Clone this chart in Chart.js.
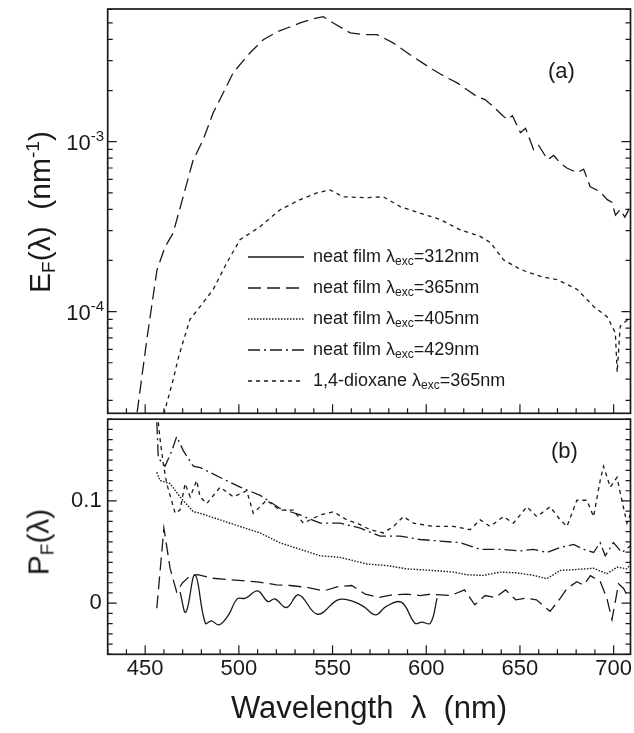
<!DOCTYPE html>
<html>
<head>
<meta charset="utf-8">
<script src="https://cdn.jsdelivr.net/npm/chart.js@4.4.1/dist/chart.umd.min.js"></script>
<style>
  body { margin: 0; background: #fff; }
  #wrap { position: relative; width: 634px; height: 733px; overflow: hidden;
          font-family: "Liberation Sans", Arial, sans-serif; color: #1a1a1a; }
  #wrap canvas { position: absolute; left: 0; }
  .txt { position: absolute; white-space: nowrap; line-height: 1; }
  .rot { transform: translate(-50%, -50%) rotate(-90deg); font-size: 30px; }
  .leg { position: absolute; left: 248px; font-size: 18px; line-height: 1; white-space: nowrap; }
  .leg svg { vertical-align: middle; margin-right: 9px; }
  sub { font-size: 12px; vertical-align: -3px; }
  .ysup { font-size: 15px; position: relative; top: -9px; }
</style>
</head>
<body>
<div id="wrap">
  <canvas id="topChart" width="634" height="420" style="top:0"></canvas>
  <canvas id="botChart" width="634" height="333" style="top:400px"></canvas>
  <div id="labels"></div>
</div>
<script>
const INK = '#1a1a1a';

// shared wavelength axis (nm)
const nmMin = 430, nmMax = 709;
const nmTickLabels = [450, 500, 550, 600, 650, 700];

// panel (a): E_F, log scale
const efMin = 2.52e-5, efMax = 6.04e-3;
const filmNmA = [445.7, 451, 456.3, 460.6, 464.9, 469.7, 475.6, 481, 486.3, 491.7,
  497, 506, 513, 520.4, 532.7, 540, 545, 550.4, 559.4, 566.3,
  573.7, 582.3, 591.4, 597.8, 603.7, 610.1, 616.5, 621.8, 627.2, 631.4,
  635.8, 640, 643.2, 646, 650.3, 653, 657.3, 660, 664.8, 668,
  671.5, 675, 680.6, 684, 687.5, 691, 694, 696.6, 699, 701,
  703.5, 706, 708.9];
const filmEA = [2.55e-5, 7.0e-5, 1.76e-4, 2.4e-4, 2.9e-4, 4.5e-4, 7.8e-4, 1.03e-3, 1.48e-3, 1.94e-3,
  2.55e-3, 3.34e-3, 3.98e-3, 4.43e-3, 5.0e-3, 5.3e-3, 5.45e-3, 5.0e-3, 4.37e-3, 4.27e-3,
  4.27e-3, 3.82e-3, 3.25e-3, 2.92e-3, 2.65e-3, 2.41e-3, 2.22e-3, 2.02e-3, 1.84e-3, 1.77e-3,
  1.61e-3, 1.45e-3, 1.35e-3, 1.42e-3, 1.13e-3, 1.2e-3, 8.97e-4, 9.5e-4, 7.83e-4, 8.3e-4,
  7.5e-4, 7.0e-4, 6.57e-4, 6.9e-4, 5.43e-4, 5.2e-4, 4.9e-4, 4.56e-4, 4.4e-4, 3.7e-4,
  3.98e-4, 3.6e-4, 4.15e-4];
const dioxNmA = [460, 465, 467.8, 470.5, 473.9, 479.3, 486.3, 493.7, 500.6, 511.3,
  522, 532.7, 541.7, 548.7, 555.6, 568.4, 577, 586.1, 596.7, 607.5,
  618.1, 628.8, 634.2, 641.2, 650.3, 661, 670.1, 680.6, 689.4, 696.6,
  700.9, 701.9, 703.5, 707.7];
const dioxEA = [2.5e-5, 4.0e-5, 5.4e-5, 6.8e-5, 9.0e-5, 1.07e-4, 1.35e-4, 1.95e-4, 2.65e-4, 3.16e-4,
  3.98e-4, 4.56e-4, 5.0e-4, 5.2e-4, 4.74e-4, 4.68e-4, 4.74e-4, 4.15e-4, 3.8e-4, 3.48e-4,
  3.03e-4, 2.77e-4, 2.55e-4, 2.02e-4, 1.77e-4, 1.61e-4, 1.54e-4, 1.35e-4, 1.07e-4, 9.3e-5,
  7.5e-5, 4.4e-5, 8.2e-5, 9.0e-5];

// panel (b): P_F, linear scale
const pfMin = -0.05, pfMax = 0.18;
const pfTickLabels = [0, 0.1];
const p312Nm = [468.6, 471.7, 476.6, 482.1, 485.4, 489.4, 494.5, 499.1, 503.6, 510,
  515.5, 519.2, 525.5, 531.9, 542, 552.9, 560.2, 566.6, 573, 578.5,
  586.7, 594, 597.6, 602.2, 605.8];
const p312 = [0.011, -0.0088, 0.0278, -0.0196, -0.0173, -0.0212, -0.0114, 0.0042, 0.0049, 0.0121,
  0.0016, 0.0042, -0.0042, 0.0082, -0.0108, 0.0033, 0.0023, -0.0033, -0.0114, -0.0033,
  0.001, -0.0196, -0.0186, -0.0196, 0.0049];
const p365Nm = [456.2, 460, 463.3, 466.8, 470, 473.5, 478.1, 485.4, 494.5, 501.8,
  510.9, 520, 527.4, 536.5, 545.4, 552.9, 560.2, 567.5, 574.8, 582.1,
  589.4, 596.7, 602.2, 607.7, 613.1, 620.4, 625.9, 631.4, 636.9, 642.3,
  647.8, 653.3, 658.8, 666.1, 671.5, 675.1, 680.4, 684, 687.6, 692.9,
  696.4, 699.1, 700.9, 702.6, 705.3, 708];
const p365 = [-0.005, 0.0735, 0.034, 0.011, 0.02, 0.026, 0.028, 0.0245, 0.023, 0.022,
  0.0206, 0.018, 0.0173, 0.0154, 0.0121, 0.0163, 0.0173, 0.0088, 0.0056, 0.0082,
  0.0088, 0.0075, 0.0088, 0.0082, 0.0075, 0.013, -0.0016, 0.0075, 0.0056, 0.013,
  0.0033, 0.0049, 0.0033, -0.008, 0.0048, 0.0144, 0.021, 0.0176, 0.027, 0.021,
  0.0048, -0.016, 0.0016, 0.019, 0.0144, 0.0048];
const p405Nm = [456.2, 457.9, 463.3, 468.6, 475.7, 479.3, 490, 500.7, 511.4, 522,
  532.7, 543.4, 554.1, 568.3, 579, 589.6, 603.8, 614.5, 621.7, 630.5,
  639.4, 648.4, 657.2, 664.4, 671.5, 680.4, 689.3, 696.4, 701.8, 707.1,
  709.8];
const p405 = [0.128, 0.12, 0.117, 0.104, 0.0895, 0.088, 0.0815, 0.075, 0.0687, 0.059,
  0.0527, 0.0464, 0.0448, 0.0384, 0.0368, 0.0336, 0.032, 0.0304, 0.0278, 0.0272,
  0.0304, 0.0297, 0.0272, 0.024, 0.032, 0.033, 0.0342, 0.0288, 0.0352, 0.0336,
  0.04];
const p429Nm = [456.2, 457, 460.6, 464.2, 466.8, 470.4, 475.7, 479.3, 490, 500.7,
  511.4, 522, 532.7, 543.4, 554.1, 564.8, 575.4, 586.1, 596.7, 607.4,
  618.1, 628.8, 639.4, 650.1, 657.2, 664.4, 671.5, 678.6, 684, 689.3,
  692.8, 695.5, 699.9, 704.4, 708.8];
const p429 = [0.177, 0.142, 0.134, 0.149, 0.163, 0.149, 0.134, 0.1327, 0.123, 0.1135,
  0.1055, 0.0927, 0.0863, 0.0783, 0.0783, 0.0735, 0.0656, 0.0656, 0.0623, 0.0608,
  0.0592, 0.0527, 0.0527, 0.0512, 0.0527, 0.0496, 0.0544, 0.0575, 0.0527, 0.0496,
  0.0592, 0.0464, 0.0592, 0.0496, 0.056];
const pDioxNm = [457, 457.9, 459.7, 461.5, 466, 468.6, 471.3, 474, 477.5, 479.3,
  482.9, 490, 497.1, 504.2, 507.7, 514.8, 522, 529.1, 534.4, 543.4,
  550.5, 557.6, 563, 570, 577.1, 582.5, 587.8, 593.2, 603.8, 614.5,
  623.4, 628.8, 634.1, 641.2, 646.5, 653.7, 659, 666.1, 671.5, 675.1,
  680.4, 685.7, 689.3, 692.8, 694.6, 698.2, 701.8, 704.4, 707.1, 709.8];
const pDiox = [0.177, 0.161, 0.136, 0.117, 0.088, 0.091, 0.117, 0.104, 0.12, 0.104,
  0.0975, 0.1135, 0.104, 0.11, 0.088, 0.1007, 0.091, 0.091, 0.0783, 0.0863,
  0.0895, 0.0815, 0.0783, 0.0719, 0.0687, 0.0751, 0.0847, 0.0783, 0.0751, 0.0751,
  0.0719, 0.0815, 0.0751, 0.0847, 0.0783, 0.0943, 0.0847, 0.0943, 0.0815, 0.0751,
  0.1007, 0.1007, 0.0847, 0.12, 0.134, 0.1135, 0.123, 0.1007, 0.0783, 0.091];

// legend
const legendSolvent = ['neat film', 'neat film', 'neat film', 'neat film', '1,4-dioxane'];
const legendExc = [312, 365, 405, 429, 365];

// line styles per series, same order as the legend
const dashes = [[], [13, 6], [1.5, 1.5], [12, 4, 2, 4], [4, 4]];

const pts = (xs, ys) => xs.map((x, i) => ({ x: x, y: ys[i] }));

function line(label, data, k) {
  return {
    label: label,
    data: data,
    borderColor: INK,
    borderWidth: k === 2 ? 1.4 : 1.3,
    borderDash: dashes[k],
    pointRadius: 0,
    tension: k === 0 ? 0.4 : 0,
    fill: false
  };
}

// frame + inward ticks on the plot area
const frame = {
  id: 'frame',
  afterDraw(chart, args, opts) {
    const { ctx, chartArea: a } = chart;
    const xs = chart.scales.x, ys = chart.scales.y;
    ctx.save();
    ctx.strokeStyle = INK;
    ctx.lineWidth = 1.2;
    ctx.beginPath();
    for (let v = 430; v <= nmMax; v += 10) {
      const px = xs.getPixelForValue(v);
      const len = v % 50 === 0 ? 9 : 5;
      ctx.moveTo(px, a.bottom); ctx.lineTo(px, a.bottom - len);
    }
    opts.yTicks.forEach(t => {
      const py = ys.getPixelForValue(t.v);
      const len = t.major ? 9 : 5;
      ctx.moveTo(a.left, py); ctx.lineTo(a.left + len, py);
      ctx.moveTo(a.right, py); ctx.lineTo(a.right - len, py);
    });
    ctx.stroke();
    ctx.lineWidth = 1.7;
    ctx.strokeRect(a.left, a.top, a.right - a.left, a.bottom - a.top);
    ctx.restore();
  }
};

const logTicks = [];
for (let e = -5; e <= -3; e++) {
  for (let m = 1; m <= 9; m++) {
    const v = m * Math.pow(10, e);
    if (v >= efMin && v <= efMax) logTicks.push({ v: v, major: m === 1 });
  }
}
const linTicks = [];
for (let i = -5; i <= 18; i++) linTicks.push({ v: i / 100, major: i % 10 === 0 });

const topChart = new Chart(document.getElementById('topChart'), {
  type: 'line',
  data: {
    datasets: [
      line('neat film 365nm', pts(filmNmA, filmEA), 1),
      line('1,4-dioxane 365nm', pts(dioxNmA, dioxEA), 4)
    ]
  },
  options: {
    responsive: false,
    animation: false,
    devicePixelRatio: 1,
    layout: { padding: { left: 107.7, right: 3.5, top: 9, bottom: 6.7 } },
    scales: {
      x: { type: 'linear', min: nmMin, max: nmMax, display: false },
      y: { type: 'logarithmic', min: efMin, max: efMax, display: false }
    },
    plugins: {
      legend: { display: false },
      tooltip: { enabled: false },
      frame: { yTicks: logTicks }
    }
  },
  plugins: [frame]
});

const botChart = new Chart(document.getElementById('botChart'), {
  type: 'line',
  data: {
    datasets: [
      line('312', pts(p312Nm, p312), 0),
      line('365', pts(p365Nm, p365), 1),
      line('405', pts(p405Nm, p405), 2),
      line('429', pts(p429Nm, p429), 3),
      line('dioxane', pts(pDioxNm, pDiox), 4)
    ]
  },
  options: {
    responsive: false,
    animation: false,
    devicePixelRatio: 1,
    layout: { padding: { left: 0, right: 3.5, top: 13.3, bottom: 0 } },
    scales: {
      x: {
        type: 'linear', min: nmMin, max: nmMax,
        afterBuildTicks: s => { s.ticks = nmTickLabels.map(v => ({ value: v })); },
        afterFit: s => { s.height = 78.7; },
        grid: { drawOnChartArea: false, drawTicks: false },
        border: { display: false },
        ticks: { color: INK, padding: 1, font: { family: 'Liberation Sans', size: 22 } }
      },
      y: {
        type: 'linear', min: pfMin, max: pfMax,
        afterBuildTicks: s => { s.ticks = pfTickLabels.map(v => ({ value: v })); },
        afterFit: s => { s.width = 107.7; },
        grid: { drawOnChartArea: false, drawTicks: false },
        border: { display: false },
        ticks: { color: INK, padding: 6, font: { family: 'Liberation Sans', size: 22 },
                 callback: v => String(v) }
      }
    },
    plugins: {
      legend: { display: false },
      tooltip: { enabled: false },
      frame: { yTicks: linTicks }
    }
  },
  plugins: [frame]
});

// text overlays
const labels = document.getElementById('labels');
function addText(html, style, cls) {
  const d = document.createElement('div');
  d.className = 'txt' + (cls ? ' ' + cls : '');
  d.innerHTML = html;
  Object.assign(d.style, style);
  labels.appendChild(d);
  return d;
}

// log-axis labels placed from the chart's own scale
[-3, -4].forEach(e => {
  const py = topChart.scales.y.getPixelForValue(Math.pow(10, e));
  addText('10<span class="ysup">-' + (-e) + '</span>',
    { right: (634 - 104) + 'px', top: (py - 10) + 'px', fontSize: '22px' });
});

addText('E<sub style="font-size:19px;vertical-align:-5px">F</sub>(λ)&nbsp;&nbsp;(nm<sup style="font-size:19px">-1</sup>)',
  { left: '40px', top: '212px' }, 'rot');
addText('P<sub style="font-size:19px;vertical-align:-5px">F</sub>(λ)',
  { left: '40px', top: '542px' }, 'rot');
addText('Wavelength&nbsp; λ&nbsp; (nm)',
  { left: '369px', top: '707px', fontSize: '31px', transform: 'translate(-50%,-50%)' });
addText('(a)', { left: '548px', top: '60px', fontSize: '22px' });
addText('(b)', { left: '551px', top: '440px', fontSize: '22px' });

// legend
legendExc.forEach((exc, k) => {
  const d = document.createElement('div');
  d.className = 'leg';
  d.style.top = (247 + k * 31) + 'px';
  const dash = dashes[k].length ? ' stroke-dasharray="' + dashes[k].join(' ') + '"' : '';
  d.innerHTML = '<svg width="56" height="6"><line x1="0" y1="3" x2="56" y2="3" stroke="' + INK +
    '" stroke-width="1.4"' + dash + '/></svg>' +
    legendSolvent[k] + ' λ<sub>exc</sub>=' + exc + 'nm';
  labels.appendChild(d);
});
</script>
</body>
</html>
